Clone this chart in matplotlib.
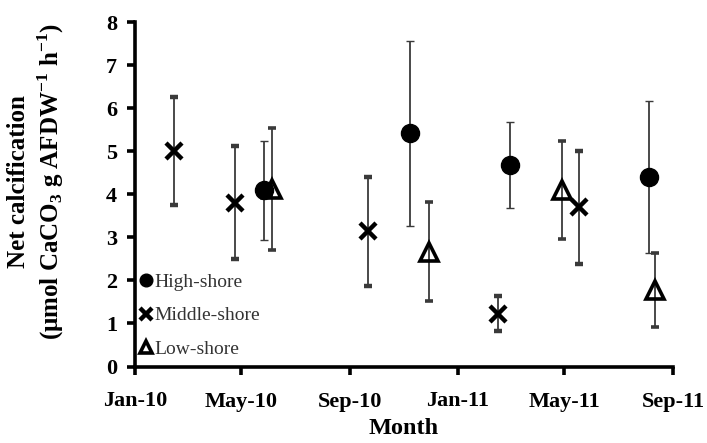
import matplotlib
matplotlib.use("Agg")
import matplotlib.pyplot as plt
import matplotlib.dates as mdates
import numpy as np

# Net calcification per sampling date (mean +/- error)
high_dates = ["2010-05-27", "2010-11-08", "2011-03-01", "2011-08-05"]
high_mean = [4.09, 5.42, 4.68, 4.40]
high_err = [1.15, 2.15, 1.00, 1.76]

middle_dates = ["2010-02-14", "2010-04-24", "2010-09-21", "2011-02-15", "2011-05-18"]
middle_mean = [5.00, 3.80, 3.14, 1.23, 3.70]
middle_err = [1.25, 1.31, 1.27, 0.41, 1.31]

low_dates = ["2010-06-05", "2010-11-29", "2011-04-28", "2011-08-12"]
low_mean = [4.13, 2.66, 4.10, 1.78]
low_err = [1.42, 1.15, 1.14, 0.86]

plt.rcParams['font.family'] = ['Liberation Serif', 'DejaVu Serif']
plt.rcParams['mathtext.fontset'] = 'custom'
plt.rcParams['mathtext.rm'] = 'Liberation Serif'
plt.rcParams['mathtext.bf'] = 'Liberation Serif:bold'

fig = plt.figure(figsize=(7.07, 4.43), dpi=100)
ax = fig.add_axes([135 / 707, 1 - 366.5 / 443, (673 - 135) / 707, (366.5 - 22) / 443])

err_style = dict(ecolor='#3a3a3a', elinewidth=1.3, capsize=3, capthick=1.0, linestyle='none')

h = ax.errorbar(np.array(high_dates, dtype='datetime64[D]'), high_mean, yerr=high_err,
                marker='o', markersize=13, color='black', label='High-shore', **err_style)
m = ax.errorbar(np.array(middle_dates, dtype='datetime64[D]'), middle_mean, yerr=middle_err,
                marker='x', markersize=12, markeredgewidth=3.2, color='black', label='Middle-shore', **err_style)
l = ax.errorbar(np.array(low_dates, dtype='datetime64[D]'), low_mean, yerr=low_err,
                marker='^', markersize=13, markeredgewidth=2.6, markerfacecolor='none',
                color='black', label='Low-shore', **err_style)

ax.set_xlim(np.datetime64('2010-01-01'), np.datetime64('2011-09-01'))
ax.set_ylim(0, 8)
ax.set_yticks(range(0, 9))
ax.xaxis.set_major_locator(mdates.MonthLocator(bymonth=[1, 5, 9]))
ax.xaxis.set_major_formatter(mdates.DateFormatter('%b-%y'))

for side in ['top', 'right']:
    ax.spines[side].set_visible(False)
for side in ['left', 'bottom']:
    ax.spines[side].set_linewidth(2.6)

ax.tick_params(axis='both', direction='out', length=6, width=2.6, labelsize=16)
ax.tick_params(axis='x', pad=12)
ax.tick_params(axis='y', pad=7)
for lab in ax.get_xticklabels() + ax.get_yticklabels():
    lab.set_fontweight('bold')

ax.set_xlabel('Month', fontsize=17.5, fontweight='bold', labelpad=5)
fig.text(36.5 / 707, 1 - 182 / 443,
         'Net calcification\n(μmol CaCO$_\\mathbf{3}$ g AFDW$^\\mathbf{-1}$ h$^\\mathbf{-1}$)',
         rotation=90, ha='center', va='center', fontsize=18, fontweight='bold',
         linespacing=1.2, multialignment='center')

leg = ax.legend(handles=[h[0], m[0], l[0]], labels=['High-shore', 'Middle-shore', 'Low-shore'],
                loc='lower left', bbox_to_anchor=(-0.012, -0.008), frameon=False,
                fontsize=14, markerscale=0.7, handlelength=0.6, handletextpad=0.15,
                labelspacing=0.8, borderaxespad=0.2)
for t in leg.get_texts():
    t.set_color('#333333')

fig.savefig('out.png', dpi=100)
